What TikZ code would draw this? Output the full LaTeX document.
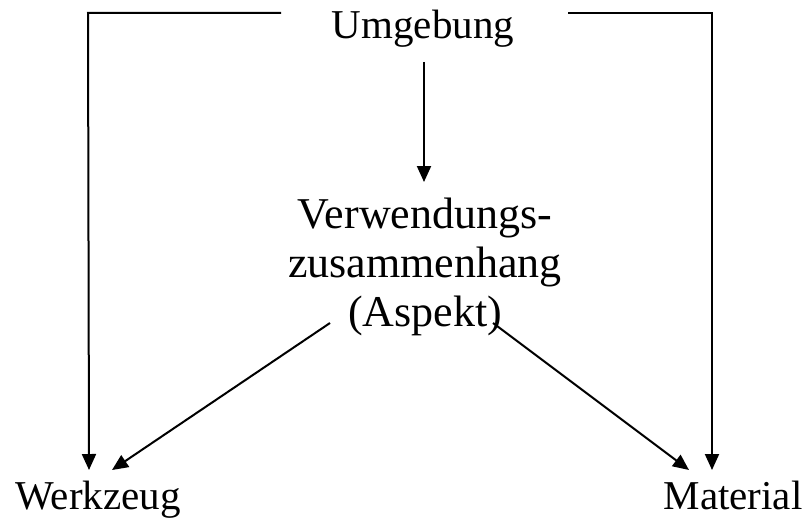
\documentclass[tikz,border=0pt]{standalone}
\usepackage{fontspec}
\setmainfont{Liberation Serif}
\usetikzlibrary{arrows.meta}
\begin{document}
\begin{tikzpicture}[x=1pt,y=-1pt,
  lbl/.style={inner sep=0pt,font=\fontsize{41}{49}\selectfont},
  mid/.style={inner sep=0pt,font=\fontsize{44}{49}\selectfont},
  conn/.style={line width=2pt},
  arr/.style={conn,-{Triangle[length=16pt,width=14pt]}}]
\useasboundingbox (0,0) rectangle (805,524);
\node[lbl,anchor=base] (U) at (423,39) {Umgebung};
\node[mid,align=center] (V) at (425,267) {Verwendungs-\\zusammenhang\\(Aspekt)};
\node[lbl,anchor=base] (W) at (98,509) {Werkzeug};
\node[lbl,anchor=base] (M) at (733,509) {Material};
% helper coordinates
\coordinate (ul) at (281,13);
\coordinate (ur) at (568,13);
\coordinate (vtop) at (424,62);
\coordinate (vbot) at (424,182);
\coordinate (wl) at (89,470);
\coordinate (wd) at (112,470);
\coordinate (mr) at (712,470);
\coordinate (md) at (689,470);
\coordinate (dl) at (330,323);
\coordinate (dr) at (493,323);
\draw[arr] (ul) -- (88,13) -- (wl);
\draw[arr] (ur) -- (712,13) -- (mr);
\draw[arr] (vtop) -- (vbot);
\draw[arr] (dl) -- (wd);
\draw[arr] (dr) -- (md);
\end{tikzpicture}
\end{document}
